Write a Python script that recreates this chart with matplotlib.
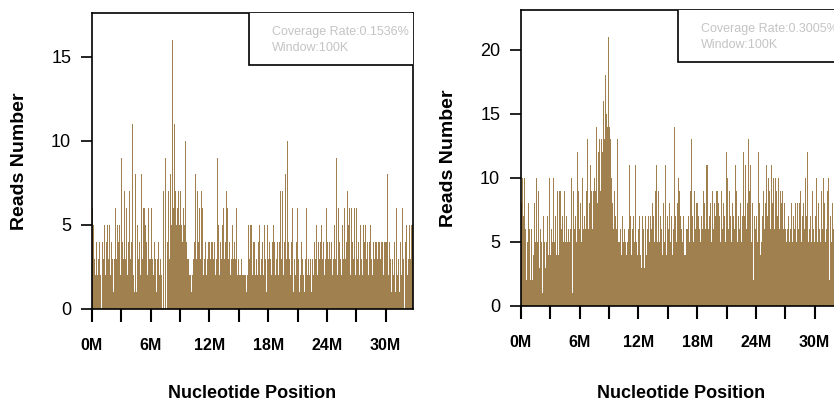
import matplotlib.pyplot as plt
from matplotlib.patches import Rectangle
import numpy as np

plt.rcParams['font.family'] = ['Liberation Sans', 'DejaVu Sans']

# reads per 100K window, one row per megabase
reads_a = [
    6, 5, 3, 2, 4, 2, 3, 4, 2, 0,
    4, 3, 5, 2, 4, 5, 3, 5, 2, 4,
    3, 1, 5, 3, 6, 3, 5, 4, 5, 2,
    9, 4, 3, 7, 3, 6, 2, 4, 7, 3,
    4, 11, 2, 1, 8, 1, 5, 3, 4, 2,
    8, 3, 6, 6, 5, 4, 2, 6, 3, 3,
    6, 3, 2, 4, 3, 1, 3, 4, 2, 1,
    3, 2, 0, 7, 0, 9, 0, 4, 7, 3,
    8, 5, 16, 6, 11, 7, 5, 6, 7, 5,
    7, 5, 4, 6, 5, 10, 4, 3, 3, 2,
    2, 1, 2, 3, 4, 8, 3, 7, 4, 6,
    3, 7, 6, 2, 3, 4, 7, 2, 3, 4,
    4, 3, 4, 4, 3, 4, 2, 3, 9, 5,
    2, 4, 3, 5, 6, 3, 4, 7, 6, 3,
    4, 2, 3, 5, 3, 4, 3, 6, 2, 3,
    2, 2, 3, 2, 2, 2, 2, 1, 2, 5,
    3, 5, 5, 4, 2, 4, 4, 2, 3, 2,
    4, 5, 2, 3, 4, 2, 5, 3, 1, 5,
    3, 4, 3, 2, 4, 5, 4, 2, 3, 4,
    2, 4, 7, 3, 7, 2, 4, 8, 3, 10,
    4, 3, 2, 4, 6, 1, 3, 2, 4, 6,
    2, 3, 1, 2, 4, 3, 2, 1, 3, 6,
    2, 3, 2, 3, 1, 3, 2, 4, 3, 5,
    2, 4, 3, 4, 5, 3, 4, 2, 3, 6,
    4, 3, 4, 3, 4, 2, 3, 5, 3, 9,
    2, 6, 4, 3, 2, 5, 3, 4, 6, 3,
    4, 7, 5, 6, 2, 6, 4, 3, 6, 2,
    6, 3, 4, 2, 5, 3, 2, 5, 4, 5,
    3, 4, 2, 4, 5, 3, 2, 4, 3, 4,
    4, 3, 4, 4, 3, 4, 4, 2, 4, 4,
    4, 8, 2, 4, 1, 3, 1, 3, 2, 4,
    1, 6, 2, 3, 1, 4, 2, 6, 3, 0,
    4, 5, 2, 3, 5, 3, 5, 5,
]

reads_b = [
    8, 10, 7, 10, 6, 2, 5, 8, 6, 2,
    6, 2, 4, 8, 5, 10, 5, 9, 3, 6,
    5, 1, 7, 10, 5, 3, 5, 7, 4, 10,
    4, 6, 5, 10, 5, 7, 4, 9, 4, 9,
    9, 6, 7, 5, 9, 5, 7, 5, 6, 5,
    6, 10, 1, 9, 6, 7, 5, 12, 9, 6,
    8, 5, 10, 6, 7, 6, 9, 13, 6, 8,
    9, 11, 9, 6, 9, 10, 9, 14, 8, 12,
    13, 9, 13, 12, 16, 13, 18, 15, 14, 21,
    14, 13, 10, 8, 6, 9, 7, 6, 13, 5,
    5, 6, 4, 7, 5, 6, 5, 4, 5, 6,
    11, 7, 4, 6, 7, 5, 11, 6, 5, 4,
    6, 7, 4, 3, 7, 6, 3, 7, 4, 6,
    7, 5, 7, 6, 8, 7, 5, 9, 11, 5,
    9, 5, 7, 6, 4, 8, 5, 11, 4, 7,
    6, 8, 5, 7, 4, 6, 14, 7, 5, 8,
    10, 9, 7, 6, 8, 5, 7, 4, 4, 6,
    6, 7, 5, 9, 13, 7, 5, 9, 6, 8,
    8, 7, 6, 5, 7, 6, 9, 8, 6, 11,
    11, 6, 7, 8, 5, 9, 6, 8, 7, 9,
    9, 8, 7, 5, 9, 6, 8, 7, 5, 12,
    10, 9, 6, 9, 7, 5, 8, 7, 6, 11,
    9, 5, 7, 6, 8, 5, 7, 12, 7, 11,
    6, 8, 13, 9, 11, 5, 8, 2, 7, 6,
    7, 5, 12, 8, 4, 5, 7, 9, 6, 8,
    11, 7, 10, 9, 6, 11, 8, 5, 10, 6,
    10, 9, 7, 10, 6, 9, 8, 9, 6, 8,
    6, 5, 6, 7, 5, 6, 8, 5, 7, 6,
    8, 5, 8, 6, 8, 9, 5, 7, 8, 6,
    10, 7, 12, 5, 6, 7, 5, 9, 6, 5,
    7, 10, 5, 8, 10, 6, 5, 9, 6, 10,
    8, 5, 6, 9, 10, 2, 7, 5, 8, 6,
    9, 6, 10, 5, 7, 8, 5, 6,
]

rates = ['0.1536%', '0.3005%']
window_mb = 0.1
x_ticks = list(range(0, 31, 3))
x_labels = [f'{t}M' if t % 6 == 0 else '' for t in x_ticks]

fig = plt.figure(figsize=(8.34, 4.03), dpi=100)
ax1 = fig.add_axes([0.1103, 0.2333, 0.3849, 0.7345])
ax2 = fig.add_axes([0.6247, 0.2407, 0.3849, 0.7345])

panels = [(ax1, reads_a, [0, 5, 10, 15], 17.6, -0.285),
          (ax2, reads_b, [0, 5, 10, 15, 20], 23.1, -0.295)]

for (ax, reads, yt, ytop, xlab_y), rate in zip(panels, rates):
    pos = np.arange(len(reads)) * window_mb
    ax.bar(pos, reads, width=window_mb, align='edge', color='#a0804f',
           linewidth=0, zorder=2)
    ax.set_xlim(0, 32.8)
    ax.set_ylim(0, ytop)
    ax.set_xticks(x_ticks)
    ax.set_xticklabels(x_labels, fontweight='bold', fontsize=11.5)
    ax.set_yticks(yt)
    ax.tick_params(axis='x', length=9, width=1.5, pad=12, direction='out')
    ax.tick_params(axis='y', length=8, width=1.2, pad=7, labelsize=13)
    for s in ax.spines.values():
        s.set_linewidth(1.2)
    ax.set_xlabel('Nucleotide Position', fontweight='bold', fontsize=13, va='center')
    ax.xaxis.set_label_coords(0.5, xlab_y)
    ax.set_ylabel('Reads Number', fontweight='bold', fontsize=14, va='center')
    ax.yaxis.set_label_coords(-0.225, 0.5)

    # info box in the top right corner
    ax.add_patch(Rectangle((0.489, 0.824), 0.6, 0.3, transform=ax.transAxes,
                           facecolor='white', edgecolor='black', linewidth=1.2,
                           zorder=3, clip_on=True))
    ax.text(0.561, 0.936, 'Coverage Rate:' + rate, transform=ax.transAxes,
            color='#c4c4c4', fontsize=9, va='center', zorder=4)
    ax.text(0.561, 0.882, 'Window:100K', transform=ax.transAxes,
            color='#c4c4c4', fontsize=9, va='center', zorder=4)

fig.savefig('out.png', dpi=100)
